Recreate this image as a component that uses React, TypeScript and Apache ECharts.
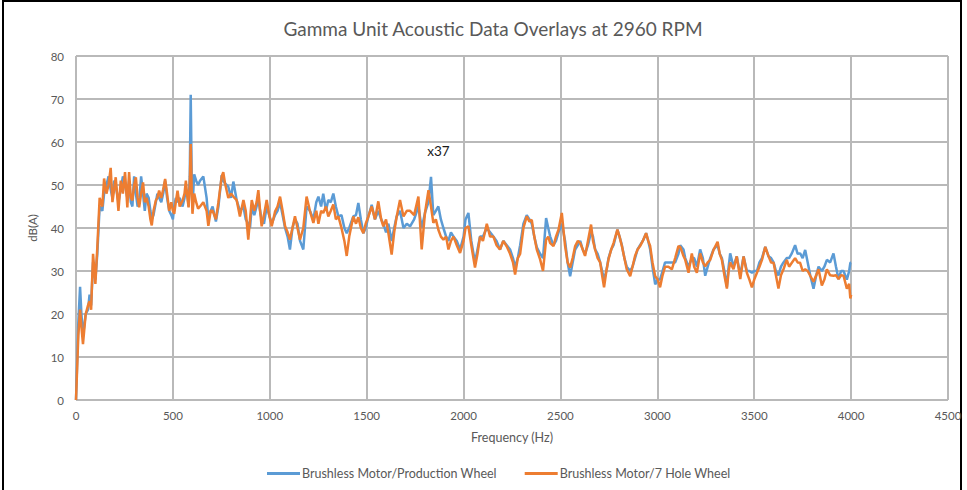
import React, { useEffect, useRef } from "react";
import * as echarts from "echarts";

const titleText = "Gamma Unit Acoustic Data Overlays at 2960 RPM";
const xAxisName = "Frequency (Hz)";
const yAxisName = "dB(A)";
const seriesNames = ["Brushless Motor/Production Wheel", "Brushless Motor/7 Hole Wheel"];

const freqHz = [
  0, 12, 21, 28, 36, 50, 62, 70, 78, 88, 100, 110, 122, 136,
  145, 157, 168, 179, 188, 197, 205, 219, 231, 242, 253, 265, 274, 283, 291, 300, 309, 318, 326, 336, 346, 355,
  364, 375, 384, 391, 400, 412, 420, 429, 440, 450, 460, 470, 481, 492, 500, 507, 515, 524, 535, 550, 560, 567, 575, 581,
  587, 592, 597, 601, 610, 620, 630, 640, 657, 674, 683, 695, 705, 722, 735, 752, 760, 769, 786, 800, 812, 829, 846, 864, 876, 889, 898, 907, 920, 932, 941, 950, 958, 970, 984, 997,
  1010, 1027, 1040, 1053, 1066, 1079, 1092, 1104, 1117, 1130, 1143, 1156, 1173, 1190, 1207, 1225, 1240, 1251, 1265, 1276, 1290, 1302, 1315, 1328, 1341, 1354, 1370, 1385, 1397, 1410, 1431, 1445, 1457, 1470, 1483, 1495,
  1509, 1526, 1543, 1560, 1575, 1586, 1600, 1612, 1629, 1642, 1655, 1672, 1690, 1707, 1724, 1745, 1767, 1784, 1801, 1819, 1832, 1844, 1857, 1870, 1883, 1896, 1910, 1922, 1935, 1948, 1965, 1982,
  2000, 2010, 2025, 2040, 2059, 2072, 2085, 2100, 2120, 2137, 2154, 2170, 2188, 2205, 2223, 2240, 2255, 2266, 2280, 2292, 2309, 2326, 2340, 2352, 2365, 2378, 2395, 2410, 2426, 2437, 2447, 2464, 2477, 2490,
  2507, 2524, 2537, 2550, 2563, 2576, 2590, 2602, 2615, 2627, 2642, 2658, 2668, 2679, 2692, 2705, 2715, 2725, 2737, 2748, 2762, 2774, 2794, 2805, 2817, 2830, 2842, 2860, 2872, 2885, 2898, 2911, 2925, 2942, 2953, 2963, 2975, 2989,
  3002, 3014, 3027, 3040, 3057, 3075, 3092, 3109, 3118, 3135, 3144, 3161, 3178, 3190, 3204, 3221, 3235, 3247, 3260, 3273, 3290, 3311, 3322, 3333, 3346, 3359, 3368, 3376, 3393, 3410, 3428, 3445, 3462, 3475, 3488,
  3500, 3514, 3527, 3540, 3557, 3574, 3587, 3600, 3612, 3625, 3638, 3651, 3668, 3680, 3694, 3711, 3724, 3737, 3750, 3763, 3776, 3789, 3806, 3820, 3832, 3849, 3862, 3875, 3892, 3909, 3922, 3935, 3948, 3961, 3978, 3990, 3996, 4000,
];

const productionWheelDb = [
  0, 18, 26.3, 20, 15, 20, 21, 24.5, 22, 32, 28, 34, 45, 44,
  48, 50, 52, 49, 47, 51, 50, 46, 49, 52, 50, 47, 51, 46, 45, 52, 48, 45, 46, 52, 48, 44,
  48, 47, 44, 42, 43, 46, 48, 47, 46, 48, 51, 47, 44, 43, 42, 45, 47, 46, 47, 45, 47, 49, 48, 45,
  52, 71, 52, 45, 52.5, 51, 50, 51, 52, 47, 42, 44, 45, 41.5, 45, 52.3, 51, 50.4, 49.6, 47, 50.8, 46.5, 44, 45, 42, 41, 40, 45, 43, 45, 47, 44, 42, 41, 45, 43,
  41, 43, 44, 46, 43, 40, 38, 35, 40, 42, 41, 37, 35, 45, 44, 42, 46, 47.3, 45, 48, 44, 46.5, 46, 48, 45, 42.7, 43, 40, 38.8, 40, 42.7, 43, 45.8, 42, 38.8, 40,
  42.7, 45.4, 42, 44, 42, 41, 39, 41, 37, 40, 42.7, 44, 40, 41, 40.4, 42, 45, 40, 43.5, 46, 51.9, 43, 44, 45, 42, 40, 38, 37, 39, 38, 37, 35,
  38, 42, 43.5, 37, 32, 35, 38, 38, 40, 39, 38, 37, 35, 37, 36, 35, 33, 31, 33, 36, 41, 43, 42, 41, 38, 35.5, 34, 33, 42.3, 40, 38, 36, 37, 39,
  41, 37, 32, 28.8, 32, 35, 36, 37, 35, 34, 36, 39, 38, 35, 34, 32, 30, 28, 30, 33, 35, 36, 39.6, 38, 36, 33, 31, 30, 31, 33, 35, 36, 37, 38.8, 37, 35, 31, 26.9,
  28, 28, 30, 32, 32, 32, 32, 34, 36, 35, 33, 31, 33, 33, 31, 35, 33, 28.9, 31, 33, 35, 36, 34, 33, 30, 26.3, 31, 34.1, 31, 33.4, 29, 33.4, 30, 30, 29.6,
  30, 30, 32, 33, 35.6, 33.4, 33, 32, 30, 29, 31, 32, 33, 33, 34.1, 36, 34, 34.1, 33, 34.9, 32, 29, 25.9, 29, 31, 30, 31, 32.6, 32, 34.1, 31, 28.1, 30, 30, 28, 30, 31.9, 32,
];

const sevenHoleWheelDb = [
  0, 15, 21, 17, 13, 20, 22, 23, 21, 34, 27, 35.5, 47, 45,
  51.5, 48, 50, 54, 46, 49, 51.8, 44, 51, 48, 53, 44.8, 53, 47, 46.4, 50, 51.8, 47, 44.8, 48, 50.6, 46,
  47, 45, 42, 40.6, 44, 46.4, 47, 48.7, 47, 49, 51.4, 48, 44, 46, 44, 43.3, 46, 48.7, 45, 46.4, 48, 51, 47, 44.8,
  50, 59.5, 49, 43.3, 48, 46, 44.5, 45, 46, 44, 40.5, 44, 44, 42, 46, 52, 53, 50.4, 47, 48, 47.3, 46.5, 42.7, 46.5, 44, 37.3, 42, 46.5, 44, 46, 48.8, 44, 40.4, 43, 46.5, 43,
  40.4, 43.8, 45, 47.3, 44, 40.4, 39, 37.3, 40, 42.7, 40, 37.3, 40, 47.3, 44, 41.2, 44, 41, 44, 43.5, 45, 42.7, 44, 45.5, 42, 42.7, 40, 37, 33.5, 38, 42.7, 41, 42.5, 40, 38.8, 41,
  42.7, 45, 42, 46.2, 42, 40.4, 42, 38.8, 33.8, 39, 42.7, 46.5, 42.7, 44, 44, 43, 47.3, 35, 43.5, 48.8, 45, 41.2, 42, 39.6, 38, 37.3, 38, 35, 37, 38, 36, 34.2,
  37, 40, 40.4, 36, 30.8, 34, 38, 37, 41, 38, 38, 36, 35, 37, 35.7, 34, 32, 29.2, 33, 34, 40, 42.7, 41.5, 41.9, 38, 35, 32.7, 30, 37.3, 38, 36.5, 35.8, 38, 39.6,
  43.5, 35.8, 32, 30.8, 33, 35.8, 37, 36.5, 35, 33.5, 37, 40.8, 37, 35, 33, 32, 29, 26.2, 30, 32.7, 35, 36.5, 39.6, 38, 35.8, 33, 30.4, 28.8, 31, 33.5, 35, 35.8, 37, 38.8, 37, 35.8, 32, 28.8,
  28, 26.2, 29, 31, 31, 30.4, 33, 35.8, 35.6, 33.5, 32.6, 29.6, 34.1, 31, 29.6, 34.1, 32, 31.1, 32, 32.6, 34.9, 36.8, 34, 32.6, 29, 25.9, 30, 32, 30.4, 33.4, 28.1, 33.4, 29.6, 28, 26.2,
  28, 29.6, 31, 32.6, 35.6, 33.4, 32, 31.9, 29, 25.9, 29, 30.4, 32.6, 31, 31.9, 33, 32, 31.9, 30, 30.4, 30, 28.9, 27.5, 29, 30.4, 26.6, 28, 30.4, 29, 28.9, 29, 28.1, 29, 28.9, 25.9, 27, 23.6, 24.5,
];

const annotationText = "x37";
const annotationCoord = [1870, 58];

const FONT = "Lato, 'Liberation Sans', sans-serif";
const GRAY_TEXT = "#595959";
const GRID_COLOR = "#b9b9b9";

export default function App() {
  const ref = useRef<HTMLDivElement>(null);

  useEffect(() => {
    if (!ref.current) return;
    const chart = echarts.init(ref.current, null, { renderer: "svg" });
    const toPairs = (vals: number[]) => freqHz.map((f, i) => [f, vals[i]]);
    chart.setOption({
      animation: false,
      backgroundColor: "#ffffff",
      graphic: [
        {
          type: "rect",
          shape: { x: 3, y: 1, width: 958, height: 500 },
          style: { fill: "none", stroke: "#000000", lineWidth: 2 },
          silent: true,
        },
        {
          type: "text",
          x: 493,
          y: 28,
          style: {
            text: titleText,
            align: "center",
            verticalAlign: "middle",
            fontSize: 19,
            fontFamily: FONT,
            fill: GRAY_TEXT,
          },
        },
      ],
      grid: { left: 76, right: 19, top: 56, bottom: 90, containLabel: false },
      legend: {
        left: 262,
        top: 462,
        icon: "rect",
        itemWidth: 33,
        itemHeight: 3,
        itemGap: 28,
        itemStyle: { borderWidth: 0 },
        textStyle: { color: GRAY_TEXT, fontSize: 12.5, fontFamily: FONT, padding: [0, 0, 0, -3] },
        data: seriesNames,
      },
      xAxis: {
        type: "value",
        min: 0,
        max: 4500,
        interval: 500,
        name: xAxisName,
        nameLocation: "middle",
        nameGap: 31,
        nameTextStyle: { color: GRAY_TEXT, fontSize: 12.5, fontFamily: FONT },
        axisLine: { show: false },
        axisTick: { show: false },
        axisLabel: {
          color: GRAY_TEXT,
          fontSize: 11.5,
          fontFamily: FONT,
          margin: 9,
          formatter: (v: number) => String(v),
        },
        splitLine: { show: true, lineStyle: { color: GRID_COLOR, width: 2 } },
      },
      yAxis: {
        type: "value",
        min: 0,
        max: 80,
        interval: 10,
        name: yAxisName,
        nameLocation: "middle",
        nameGap: 38,
        nameRotate: 90,
        nameTextStyle: { color: GRAY_TEXT, fontSize: 11.5, fontFamily: FONT },
        axisLine: { show: false },
        axisTick: { show: false },
        axisLabel: {
          color: GRAY_TEXT,
          fontSize: 11.5,
          fontFamily: FONT,
          margin: 12,
          formatter: (v: number) => String(v),
        },
        splitLine: { show: true, lineStyle: { color: GRID_COLOR, width: 2 } },
      },
      series: [
        {
          name: seriesNames[0],
          type: "line",
          data: toPairs(productionWheelDb),
          showSymbol: false,
          symbol: "none",
          color: "#5B9BD5",
          lineStyle: { color: "#5B9BD5", width: 2.5 },
          z: 2,
          markPoint: {
            symbol: "circle",
            symbolSize: 1,
            itemStyle: { color: "rgba(0,0,0,0)" },
            label: {
              show: true,
              position: "inside",
              formatter: annotationText,
              color: "#1a1a1a",
              fontSize: 13.5,
              fontFamily: FONT,
            },
            data: [{ coord: annotationCoord }],
          },
        },
        {
          name: seriesNames[1],
          type: "line",
          data: toPairs(sevenHoleWheelDb),
          showSymbol: false,
          symbol: "none",
          color: "#ED7D31",
          lineStyle: { color: "#ED7D31", width: 2.5 },
          z: 3,
        },
      ],
    });
    return () => chart.dispose();
  }, []);

  return (
    <div
      ref={ref}
      style={{ position: "fixed", left: 0, top: 0, width: 967, height: 490, background: "#fff" }}
    />
  );
}
